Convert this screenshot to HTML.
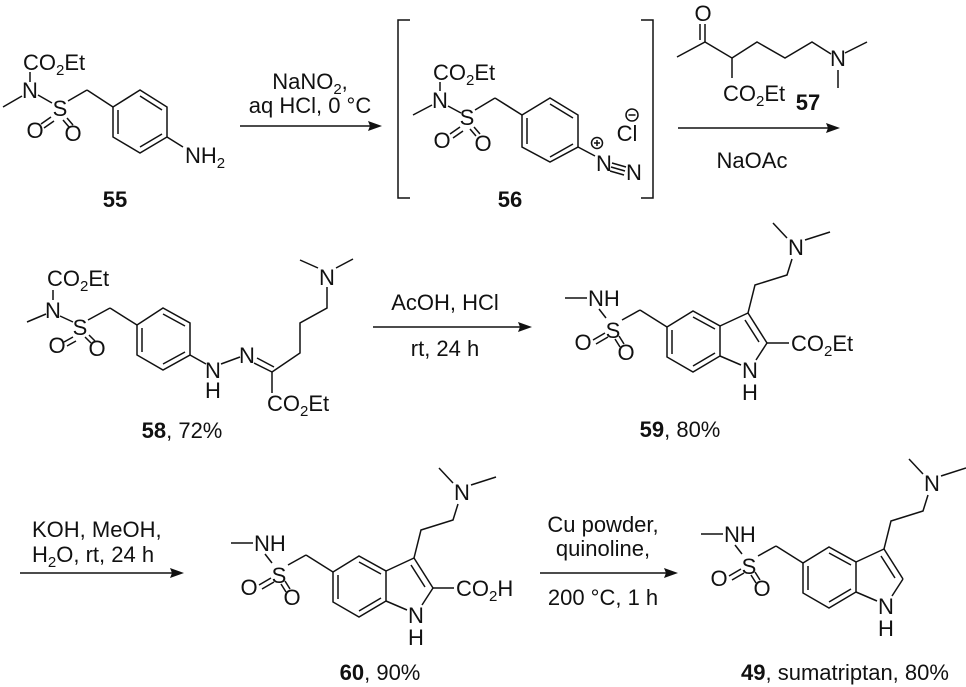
<!DOCTYPE html>
<html><head><meta charset="utf-8"><style>
html,body{margin:0;padding:0;background:#fff;}
svg{display:block;}
text{font-family:"Liberation Sans",Arial,sans-serif;font-size:22px;fill:#111;}
.b{font-weight:bold;}
.m{text-anchor:middle;}
</style></head><body>
<svg width="966" height="687" viewBox="0 0 966 687" xmlns="http://www.w3.org/2000/svg">
<defs>
<g id="indole" stroke="#111" stroke-width="1.5" fill="none">
 <line x1="565" y1="298" x2="587" y2="298"/>
 <line x1="599" y1="309" x2="606" y2="318"/>
 <line x1="605" y1="333" x2="593" y2="340"/><line x1="608" y1="337" x2="596" y2="344"/>
 <line x1="615" y1="339" x2="620" y2="347"/><line x1="619" y1="336" x2="624" y2="344"/>
 <line x1="622" y1="320" x2="640" y2="310"/><line x1="640" y1="310" x2="667" y2="327"/>
 <polyline points="667,327 693,311 720,326 720,356 693,372 667,357 667,327"/>
 <line x1="672" y1="330" x2="672" y2="354"/>
 <line x1="693" y1="317" x2="715" y2="329"/>
 <line x1="715" y1="353" x2="693" y2="366"/>
 <line x1="720" y1="326" x2="748" y2="313"/>
 <line x1="748" y1="313" x2="767" y2="343"/>
 <line x1="745" y1="320" x2="759" y2="342"/>
 <line x1="767" y1="343" x2="756" y2="360"/>
 <line x1="720" y1="356" x2="741" y2="365"/>
 <polyline points="748,313 755,285 787,275 792,259"/>
 <line x1="773" y1="223" x2="787" y2="238"/>
 <line x1="805" y1="240" x2="830" y2="232"/>
</g>
<g id="indoleText">
 <text x="588" y="306">NH</text>
 <text x="613" y="338" class="m">S</text>
 <text x="583" y="350" class="m">O</text>
 <text x="626" y="360" class="m">O</text>
 <text x="750" y="378" class="m">N</text>
 <text x="750" y="400" class="m">H</text>
 <text x="796" y="255" class="m">N</text>
</g>
</defs>

<g stroke="#111" stroke-width="1.5" fill="none">
<!-- 55 -->
<line x1="30" y1="72" x2="30" y2="82"/>
<line x1="3" y1="107" x2="22" y2="96"/>
<line x1="38" y1="95" x2="52" y2="103"/>
<line x1="51" y1="117" x2="41" y2="124"/><line x1="54" y1="121" x2="44" y2="128"/>
<line x1="63" y1="120" x2="69" y2="127"/><line x1="67" y1="118" x2="73" y2="125"/>
<line x1="68" y1="101" x2="87" y2="90"/><line x1="87" y1="90" x2="113" y2="107"/>
<polyline points="113,107 140,90 167,107 167,137 140,153 113,137 113,107"/>
<line x1="118" y1="110" x2="118" y2="134"/>
<line x1="140" y1="96" x2="162" y2="110"/>
<line x1="162" y1="134" x2="140" y2="147"/>
<line x1="167" y1="137" x2="183" y2="147"/>
<!-- arrow1 -->
<line x1="240" y1="126" x2="370" y2="126"/>
<!-- 56 -->
<path d="M410,20 H398 V198 H410"/><path d="M641,20 H653 V198 H641"/>
<line x1="440" y1="82" x2="440" y2="91"/>
<line x1="413" y1="115" x2="432" y2="105"/>
<line x1="448" y1="106" x2="461" y2="113"/>
<line x1="460" y1="127" x2="450" y2="134"/><line x1="463" y1="131" x2="453" y2="138"/>
<line x1="470" y1="129" x2="476" y2="136"/><line x1="474" y1="127" x2="480" y2="134"/>
<line x1="475" y1="110" x2="495" y2="98"/><line x1="495" y1="98" x2="522" y2="115"/>
<polyline points="522,115 550,98 578,115 578,147 550,162 522,147 522,115"/>
<line x1="527" y1="118" x2="527" y2="144"/>
<line x1="550" y1="104" x2="573" y2="118"/>
<line x1="573" y1="144" x2="550" y2="157"/>
<line x1="578" y1="147" x2="595" y2="156"/>
<line x1="612" y1="163" x2="626" y2="167"/><line x1="611" y1="167" x2="625" y2="171"/><line x1="610" y1="171" x2="624" y2="175"/>
<circle cx="597" cy="143" r="5.5"/><line x1="594" y1="143" x2="600" y2="143"/><line x1="597" y1="140" x2="597" y2="146"/>
<circle cx="632" cy="115" r="6"/><line x1="628.5" y1="115" x2="635.5" y2="115"/>
<!-- 57 -->
<line x1="700" y1="24" x2="700" y2="40"/><line x1="705" y1="24" x2="705" y2="42"/>
<polyline points="677,57 705,42 732,58 732,78"/>
<polyline points="732,58 757,42 785,58 812,42 831,54"/>
<line x1="845" y1="53" x2="867" y2="42"/><line x1="838" y1="70" x2="838" y2="88"/>
<line x1="678" y1="128" x2="828" y2="128"/>
<!-- 58 -->
<line x1="53" y1="290" x2="53" y2="300"/>
<line x1="27" y1="322" x2="46" y2="314"/>
<line x1="60" y1="316" x2="73" y2="322"/>
<line x1="73" y1="337" x2="64" y2="342"/><line x1="76" y1="341" x2="67" y2="346"/>
<line x1="85" y1="337" x2="91" y2="343"/><line x1="89" y1="335" x2="95" y2="341"/>
<line x1="88" y1="320" x2="110" y2="308"/><line x1="110" y1="308" x2="137" y2="325"/>
<polyline points="137,325 163,308 190,323 190,355 163,370 137,355 137,325"/>
<line x1="142" y1="328" x2="142" y2="352"/>
<line x1="163" y1="314" x2="185" y2="326"/>
<line x1="185" y1="352" x2="163" y2="364"/>
<line x1="190" y1="355" x2="206" y2="364"/>
<line x1="221" y1="364" x2="240" y2="357"/>
<line x1="254" y1="363" x2="272" y2="372"/><line x1="257" y1="358" x2="274" y2="367"/>
<line x1="272" y1="372" x2="272" y2="393"/>
<polyline points="272,372 300,353 300,323 327,308 327,287"/>
<line x1="300" y1="260" x2="318" y2="268"/><line x1="336" y1="268" x2="353" y2="259"/>
<!-- arrow3 -->
<line x1="373" y1="327" x2="520" y2="327"/>
<!-- 59 CO2Et bond -->
<line x1="767" y1="343" x2="789" y2="343"/>
<!-- arrow4 -->
<line x1="20" y1="573" x2="172" y2="573"/>
<!-- 60 CO2H bond -->
<line x1="433" y1="588" x2="454" y2="588"/>
<!-- arrow5 -->
<line x1="540" y1="573" x2="666" y2="573"/>
</g>
<g fill="#111">
<polygon points="382,126 368,121 370,126 368,131"/>
<polygon points="840,128 826,123 828,128 826,133"/>
<polygon points="532,327 518,322 520,327 518,332"/>
<polygon points="184,573 170,568 172,573 170,578"/>
<polygon points="678,573 664,568 666,573 664,578"/>
</g>

<!-- indoles -->
<use href="#indole"/><use href="#indoleText"/>
<g transform="translate(-334,245)"><use href="#indole"/><use href="#indoleText"/></g>
<g transform="translate(136,236)"><use href="#indole"/><use href="#indoleText"/></g>
<!-- 49 C2=... nothing extra -->

<!-- text 55 -->
<text x="23" y="70">CO<tspan font-size="15" dy="5">2</tspan><tspan dy="-5">Et</tspan></text>
<text x="30" y="98" class="m">N</text>
<text x="60" y="116" class="m">S</text>
<text x="35" y="138" class="m">O</text>
<text x="73" y="141" class="m">O</text>
<text x="185" y="163">NH<tspan font-size="15" dy="5">2</tspan></text>
<text x="115" y="207" class="m b">55</text>
<text x="310" y="89" class="m">NaNO<tspan font-size="15" dy="5">2</tspan><tspan dy="-5">,</tspan></text>
<text x="310" y="113" class="m">aq HCl, 0 °C</text>
<!-- 56 -->
<text x="433" y="80">CO<tspan font-size="15" dy="5">2</tspan><tspan dy="-5">Et</tspan></text>
<text x="440" y="108" class="m">N</text>
<text x="467" y="125" class="m">S</text>
<text x="442" y="148" class="m">O</text>
<text x="483" y="151" class="m">O</text>
<text x="604" y="171" class="m">N</text>
<text x="634" y="180" class="m">N</text>
<text x="627" y="141" class="m">Cl</text>
<text x="510" y="207" class="m b">56</text>
<!-- 57 -->
<text x="703" y="21" class="m">O</text>
<text x="723" y="101">CO<tspan font-size="15" dy="5">2</tspan><tspan dy="-5">Et</tspan></text>
<text x="838" y="66" class="m">N</text>
<text x="808" y="110" class="m b">57</text>
<text x="752" y="168" class="m">NaOAc</text>
<!-- 58 -->
<text x="47" y="286">CO<tspan font-size="15" dy="5">2</tspan><tspan dy="-5">Et</tspan></text>
<text x="53" y="318" class="m">N</text>
<text x="80" y="335" class="m">S</text>
<text x="57" y="353" class="m">O</text>
<text x="97" y="356" class="m">O</text>
<text x="213" y="378" class="m">N</text>
<text x="213" y="398" class="m">H</text>
<text x="247" y="363" class="m">N</text>
<text x="267" y="411">CO<tspan font-size="15" dy="5">2</tspan><tspan dy="-5">Et</tspan></text>
<text x="327" y="285" class="m">N</text>
<text x="182" y="438" class="m"><tspan class="b">58</tspan>, 72%</text>
<text x="445" y="310" class="m">AcOH, HCl</text>
<text x="445" y="356" class="m">rt, 24 h</text>
<!-- 59 -->
<text x="791" y="351">CO<tspan font-size="15" dy="5">2</tspan><tspan dy="-5">Et</tspan></text>
<text x="680" y="437" class="m"><tspan class="b">59</tspan>, 80%</text>
<!-- row 3 -->
<text x="32" y="537">KOH, MeOH,</text>
<text x="32" y="562">H<tspan font-size="15" dy="5">2</tspan><tspan dy="-5">O, rt, 24 h</tspan></text>
<text x="456" y="596">CO<tspan font-size="15" dy="5">2</tspan><tspan dy="-5">H</tspan></text>
<text x="380" y="680" class="m"><tspan class="b">60</tspan>, 90%</text>
<text x="603" y="532" class="m">Cu powder,</text>
<text x="603" y="556" class="m">quinoline,</text>
<text x="603" y="605" class="m">200 °C, 1 h</text>
<text x="845" y="680" class="m"><tspan class="b">49</tspan>, sumatriptan, 80%</text>
</svg>
</body></html>
